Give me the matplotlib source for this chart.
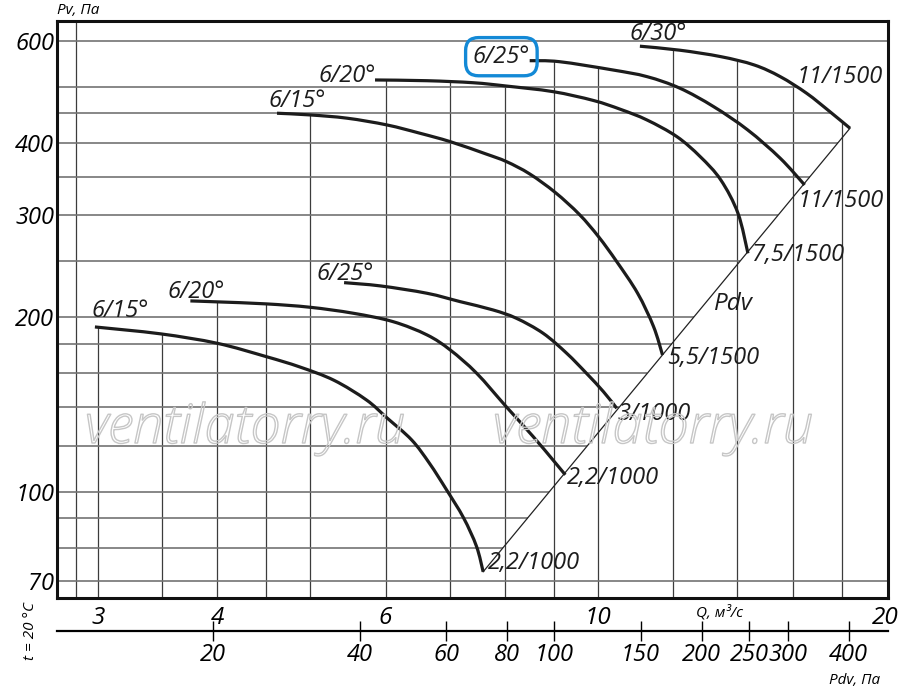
import numpy as np
import matplotlib
matplotlib.use("Agg")
import matplotlib.pyplot as plt
import matplotlib.patheffects as pe
from matplotlib.path import Path
from matplotlib.patches import PathPatch
from matplotlib.ticker import NullLocator

plt.rcParams['font.family'] = ['Open Sans', 'DejaVu Sans']
plt.rcParams['font.style'] = 'italic'

# Характеристики: Q, м3/с  и  Pv, Па
q_a = [2.98, 3.49, 4.00, 4.50, 4.88, 5.30, 5.73, 6.02, 6.39, 6.67, 6.95, 7.24, 7.47, 7.59]
p_a = [192.5, 187.3, 180.4, 171.1, 164.2, 155.7, 144.0, 134.1, 122.8, 111.9, 100.7, 90.1, 80.4, 72.7]

q_b = [3.75, 4.00, 4.50, 5.00, 5.55, 6.11, 6.63, 7.01, 7.47, 8.02, 8.56, 8.98, 9.25]
p_b = [213.5, 212.7, 211.0, 208.2, 203.3, 196.6, 186.5, 175.7, 160.2, 140.3, 124.5, 113.4, 106.9]

q_c = [5.43, 5.93, 6.63, 7.18, 7.77, 8.22, 8.77, 9.28, 9.73, 10.14, 10.47]
p_c = [229.6, 226.6, 220.1, 212.9, 206.0, 199.3, 187.7, 173.4, 160.2, 148.8, 139.3]

q_d = [4.62, 5.00, 5.47, 6.02, 6.52, 7.01, 7.64, 8.03, 8.49, 9.03, 9.57, 10.02, 10.47, 11.01, 11.44, 11.69]
p_d = [450.4, 447.4, 441.6, 429.9, 415.9, 402.3, 383.1, 371.5, 353.8, 328.6, 301.1, 275.7, 249.6, 220.1, 192.8, 172.2]

q_e = [5.85, 6.63, 7.41, 8.02, 8.98, 9.90, 10.57, 11.26, 12.10, 12.80, 13.45, 14.02, 14.36]
p_e = [514.1, 512.6, 508.5, 501.9, 490.8, 473.8, 457.3, 438.5, 410.4, 379.0, 345.5, 302.5, 258.0]

q_f = [8.49, 9.12, 10.37, 11.26, 12.19, 13.22, 14.35, 15.52, 16.46]
p_f = [555.1, 552.9, 535.0, 521.0, 497.5, 462.4, 421.5, 376.6, 338.6]

q_g = [11.07, 12.19, 13.45, 14.58, 15.52, 16.54, 17.49, 18.36]
p_g = [588.0, 578.7, 564.1, 545.7, 521.0, 487.6, 453.3, 424.3]

start_labels = ['6/15°', '6/20°', '6/25°', '6/15°', '6/20°', '6/25°', '6/30°']
end_labels = ['2,2/1000', '2,2/1000', '3/1000', '5,5/1500', '7,5/1500', '11/1500', '11/1500']

# линия динамического давления Pdv
pdv_q = [7.59, 18.36]
pdv_p = [72.7, 424.3]

# сетка и подписи осей
grid_q = [2.85, 3, 3.5, 4, 4.5, 5, 6, 7, 8, 9, 10, 12, 14, 16, 18]
grid_p = [70, 80, 90, 100, 120, 140, 160, 180, 200, 250, 300, 350, 400, 450, 500, 600]
q_ticks = [3, 4, 6, 10, 20]
p_ticks = [70, 100, 200, 300, 400, 600]
pdv_ticks = [20, 40, 60, 80, 100, 150, 200, 250, 300, 400]
pdv_ticks_q = [3.92, 5.67, 7.01, 8.05, 9.09, 10.99, 12.87, 14.21, 15.72, 18.48]

curves = [(q_a, p_a), (q_b, p_b), (q_c, p_c), (q_d, p_d), (q_e, p_e), (q_f, p_f), (q_g, p_g)]

# смещения подписей, пиксели
start_off = [(-3, 10), (-23, 3), (-28, 3), (-8, 6), (-57, -2), (-57, -2), (-10, 6)]
end_off = [(5, 9), (2, -3), (1, -6), (5, -3), (4, -2), (-7, -16), (-53, 51)]

xlim = (2.72, 20.12)
ylim = (65.5, 650)


def smooth_path(q, p):
    # гладкая кривая через точки (Catmull-Rom в логарифмах)
    pts = np.column_stack([np.log10(q), np.log10(p)])
    verts = [pts[0]]
    codes = [Path.MOVETO]
    n = len(pts)
    for i in range(n - 1):
        p0 = pts[i - 1] if i > 0 else pts[i]
        p1, p2 = pts[i], pts[i + 1]
        p3 = pts[i + 2] if i + 2 < n else pts[i + 1]
        verts += [p1 + (p2 - p0) / 6, p2 - (p3 - p1) / 6, p2]
        codes += [Path.CURVE4] * 3
    return Path(10 ** np.array(verts), codes)


def top_of(q):
    # верхняя огибающая характеристик
    tops = []
    for cq, cp in curves:
        if cq[0] <= q <= cq[-1]:
            tops.append(10 ** np.interp(np.log10(q), np.log10(cq), np.log10(cp)))
    return max(tops) if tops else ylim[1]


def right_of(p):
    # правая граница сетки: линия Pdv, затем кривая 6/30°
    if pdv_p[0] <= p <= pdv_p[1]:
        return 10 ** np.interp(np.log10(p), np.log10(pdv_p), np.log10(pdv_q))
    if pdv_p[1] < p <= p_g[0]:
        return 10 ** np.interp(np.log10(p), np.log10(p_g[::-1]), np.log10(q_g[::-1]))
    return xlim[1]


fig = plt.figure(figsize=(9, 6.94), dpi=100)
ax = fig.add_axes([57 / 900, 1 - 598 / 694, 831 / 900, 577 / 694])
ax.set_xscale('log')
ax.set_yscale('log')
ax.set_xlim(*xlim)
ax.set_ylim(*ylim)

for q in grid_q:
    ax.vlines(q, ylim[0], top_of(q), color='#3c3c3c', lw=0.9, zorder=1)
for p in grid_p:
    ax.hlines(p, xlim[0], right_of(p), color='#737373', lw=1.2, zorder=1)

ax.plot(pdv_q, pdv_p, color='#222222', lw=0.9, zorder=2)

for i, (cq, cp) in enumerate(curves):
    ax.add_patch(PathPatch(smooth_path(cq, cp), facecolor='none', edgecolor='#1c1c1c',
                           lw=2.3, capstyle='butt', zorder=3))
    st = ax.annotate(start_labels[i], (cq[0], cp[0]), xytext=start_off[i],
                     textcoords='offset pixels', ha='left', va='baseline',
                     fontsize=17, color='#1c1c1c', zorder=4)
    if i == 5:
        st.set_bbox(dict(boxstyle='round,pad=0.3,rounding_size=0.55',
                         facecolor='none', edgecolor='#1389d6', lw=2.4))
    ax.annotate(end_labels[i], (cq[-1], cp[-1]), xytext=end_off[i],
                textcoords='offset pixels', ha='left', va='center',
                fontsize=17, color='#1c1c1c', zorder=4)

ax.text(13.85, 211, 'Pdv', fontsize=17.5, ha='center', va='center', color='#1c1c1c')

# водяной знак
for xw in (245 / 900, 653 / 900):
    fig.text(xw, 1 - 443 / 694, 'ventilatorry.ru', ha='center', va='baseline',
             fontsize=39, fontweight='light', color='none', zorder=2,
             path_effects=[pe.Stroke(linewidth=1.0, foreground='#c6c6c6')])

for s in ax.spines.values():
    s.set_linewidth(2.2)
    s.set_color('#111111')

ax.xaxis.set_minor_locator(NullLocator())
ax.yaxis.set_minor_locator(NullLocator())
ax.set_xticks(q_ticks, labels=[str(v) for v in q_ticks])
ax.set_yticks(p_ticks, labels=[str(v) for v in p_ticks])
ax.tick_params(axis='x', length=0, pad=6, labelsize=17.5)
ax.tick_params(axis='y', length=0, pad=2, labelsize=17)

# шкала Pdv под осью Q
fit_b, fit_a = np.polyfit(np.log10(pdv_ticks), np.log10(pdv_ticks_q), 1)


def pdv_to_q(p):
    p = np.maximum(np.asarray(p, dtype=float), 1e-9)
    return 10 ** (fit_a + fit_b * np.log10(p))


def q_to_pdv(q):
    q = np.maximum(np.asarray(q, dtype=float), 1e-9)
    return 10 ** ((np.log10(q) - fit_a) / fit_b)


sec = ax.secondary_xaxis(-0.057, functions=(q_to_pdv, pdv_to_q))
sec.xaxis.set_minor_locator(NullLocator())
sec.set_xticks(pdv_ticks, labels=[str(v) for v in pdv_ticks])
sec.tick_params(direction='inout', length=14, width=1, pad=2, labelsize=17)
sec.spines['bottom'].set_linewidth(1.6)

fig.text(57 / 900, 1 - 10 / 694, 'Pv, Па', ha='left', va='center', fontsize=11)
fig.text(720 / 900, 1 - 613 / 694, 'Q, м³/с', ha='center', va='center', fontsize=11)
fig.text(855 / 900, 1 - 681 / 694, 'Pdv, Па', ha='center', va='center', fontsize=11)
fig.text(30 / 900, 1 - 631 / 694, 't = 20 °C', ha='center', va='center',
         rotation=90, fontsize=11)

fig.savefig('out.png', dpi=100)
